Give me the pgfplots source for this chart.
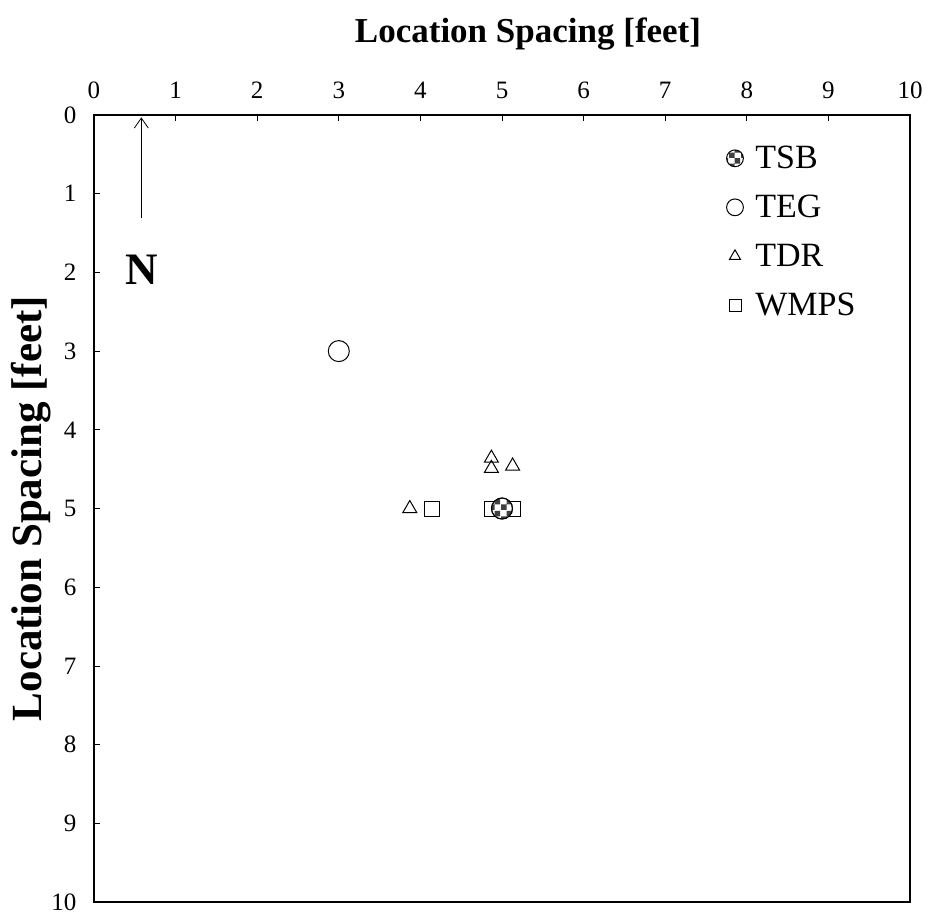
\documentclass[border=0pt]{standalone}
\usepackage{pgfplots}
\pgfplotsset{compat=1.18}
\usepackage{fontspec}
\setmainfont{Liberation Serif}
\usetikzlibrary{patterns,arrows.meta}
\begin{document}
\begin{tikzpicture}
\begin{axis}[
  scale only axis, width=816pt, height=787pt,
  xmin=0, xmax=10, ymin=0, ymax=10, y dir=reverse,
  xtick={0,1,...,10}, ytick={0,1,...,10},
  tick align=inside, major tick length=6pt,
  xtick pos=right, xticklabel pos=right,
  ytick pos=left, yticklabel pos=left,
  axis line style={line width=1.3pt},
  tick style={line width=0.8pt, black},
  /pgf/number format/assume math mode=true,
  ticklabel style={font=\fontsize{25}{29}\selectfont},
  xticklabel style={yshift=13pt},
  yticklabel style={xshift=-14pt},
  xlabel={Location Spacing [feet]},
  xlabel style={font=\bfseries\fontsize{35}{40}\selectfont, xshift=26pt, yshift=25pt},
  ylabel={Location Spacing [feet]},
  ylabel style={font=\bfseries\fontsize{43}{48}\selectfont, yshift=-6pt},
  legend style={draw=none, fill=none, at={(0.775,0.963)}, anchor=north west,
    font=\fontsize{34}{38}\selectfont, row sep=21pt, inner sep=0pt,
    nodes={inner xsep=12pt}},
  legend cell align=left,
  reverse legend,
  legend image post style={scale=0.8},
]
\addplot[only marks, mark=square, mark size=7.5pt, mark options={line width=1pt, fill=white}]
  coordinates {(4.14,5.0) (4.88,5.0) (5.13,5.0)};
\addlegendentry{WMPS}
\addplot[only marks, mark=triangle, mark size=8pt, mark options={line width=1pt, fill=white}]
  coordinates {(3.87,5.0) (4.87,4.36) (4.87,4.49) (5.13,4.46)};
\addlegendentry{TDR}
\addplot[only marks, mark=o, mark size=10.5pt, mark options={line width=1pt}]
  coordinates {(3.0,3.0)};
\addlegendentry{TEG}
\addplot[only marks, mark=*, mark size=10.5pt, mark options={line width=1pt, draw=black, fill=white}, forget plot]
  coordinates {(5.0,5.0)};
\addplot[only marks, mark=*, mark size=10.5pt, mark options={line width=1pt, draw=black, pattern=checkerboard, pattern color=black!75}]
  coordinates {(5.0,5.0)};
\addlegendentry{TSB}
\draw[-{Straight Barb[length=10pt,width=14pt]}, line width=0.8pt] (axis cs:0.58,1.31) -- (axis cs:0.58,0.03);
\node[font=\bfseries\fontsize{45}{50}\selectfont] at (axis cs:0.58,1.97) {N};
\end{axis}
\pgfresetboundingbox
\path ([xshift=-94pt,yshift=-18pt]current axis.south west) rectangle ([xshift=21pt,yshift=115pt]current axis.north east);
\end{tikzpicture}
\end{document}
